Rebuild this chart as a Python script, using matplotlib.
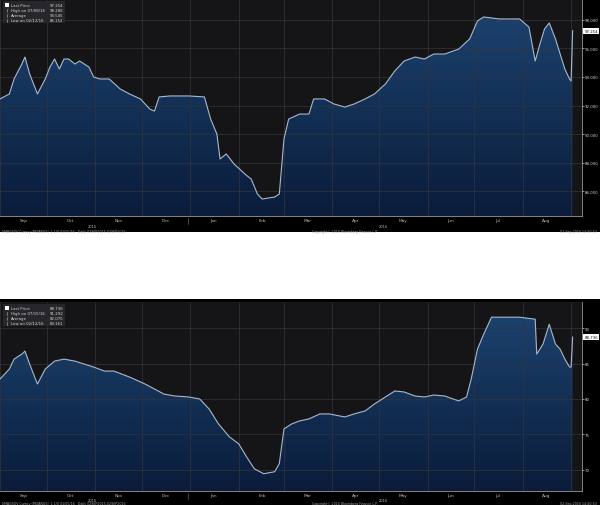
import numpy as np
import matplotlib
matplotlib.use("Agg")
import matplotlib.pyplot as plt
import matplotlib.dates as mdates
import matplotlib.transforms as mtransforms
from matplotlib.colors import LinearSegmentedColormap
from matplotlib.patches import Rectangle
import datetime as dt

# Верхній графік
top_dates = ["2015-09-01", "2015-09-07", "2015-09-10", "2015-09-15", "2015-09-17", "2015-09-20",
             "2015-09-25", "2015-09-30", "2015-10-03", "2015-10-06", "2015-10-09", "2015-10-12",
             "2015-10-15", "2015-10-19", "2015-10-22", "2015-10-28", "2015-10-31", "2015-11-04",
             "2015-11-10", "2015-11-17", "2015-11-23", "2015-11-30", "2015-12-06", "2015-12-09",
             "2015-12-12", "2015-12-19", "2015-12-31", "2016-01-10", "2016-01-14", "2016-01-18",
             "2016-01-20", "2016-01-24", "2016-01-29", "2016-02-05", "2016-02-09", "2016-02-13",
             "2016-02-16", "2016-02-24", "2016-02-27", "2016-03-01", "2016-03-04", "2016-03-11",
             "2016-03-17", "2016-03-20", "2016-03-27", "2016-04-02", "2016-04-09", "2016-04-15",
             "2016-04-22", "2016-04-28", "2016-05-05", "2016-05-11", "2016-05-17", "2016-05-24",
             "2016-05-30", "2016-06-05", "2016-06-12", "2016-06-21", "2016-06-28", "2016-07-03",
             "2016-07-07", "2016-07-17", "2016-07-30", "2016-08-05", "2016-08-09", "2016-08-12",
             "2016-08-15", "2016-08-18", "2016-08-22", "2016-08-25", "2016-08-28", "2016-08-31",
             "2016-09-01", "2016-09-02"]
top_vals = [92.46, 92.81, 93.86, 94.91, 95.40, 94.21, 92.81, 93.86, 94.70, 95.26, 94.56, 95.26,
            95.26, 94.91, 95.12, 94.70, 94.00, 93.86, 93.86, 93.16, 92.81, 92.46, 91.75, 91.61,
            92.60, 92.67, 92.67, 92.60, 91.05, 90.00, 88.25, 88.60, 87.90, 87.19, 86.84, 85.79,
            85.44, 85.58, 85.79, 89.65, 91.05, 91.40, 91.40, 92.46, 92.46, 92.11, 91.89, 92.11,
            92.46, 92.81, 93.51, 94.42, 95.12, 95.40, 95.26, 95.61, 95.61, 95.96, 96.67, 97.93,
            98.21, 98.07, 98.07, 97.50, 95.12, 96.30, 97.37, 97.79, 96.67, 95.61, 94.56, 93.86,
            93.72, 97.25]
top_yticks = [86, 88, 90, 92, 94, 96, 98]
top_legend = [("Last Price", "97.254"), ("High on 07/08/16", "98.286"),
              ("Average", "93.545"), ("Low on 02/12/16", "85.152")]

# Нижній графік
bot_dates = ["2015-09-01", "2015-09-07", "2015-09-10", "2015-09-15", "2015-09-17", "2015-09-20",
             "2015-09-25", "2015-09-30", "2015-10-06", "2015-10-12", "2015-10-19", "2015-10-25",
             "2015-10-31", "2015-11-07", "2015-11-13", "2015-11-23", "2015-12-03", "2015-12-09",
             "2015-12-15", "2015-12-22", "2015-12-31", "2016-01-07", "2016-01-13", "2016-01-19",
             "2016-01-26", "2016-02-01", "2016-02-06", "2016-02-11", "2016-02-17", "2016-02-24",
             "2016-02-27", "2016-03-01", "2016-03-06", "2016-03-11", "2016-03-17", "2016-03-24",
             "2016-03-30", "2016-04-09", "2016-04-15", "2016-04-22", "2016-04-28", "2016-05-05",
             "2016-05-11", "2016-05-17", "2016-05-24", "2016-05-30", "2016-06-05", "2016-06-12",
             "2016-06-21", "2016-06-26", "2016-06-29", "2016-07-03", "2016-07-07", "2016-07-12",
             "2016-07-17", "2016-07-30", "2016-08-09", "2016-08-10", "2016-08-14", "2016-08-18",
             "2016-08-22", "2016-08-25", "2016-08-28", "2016-08-31", "2016-09-01", "2016-09-02"]
bot_vals = [82.82, 84.23, 85.63, 86.34, 86.76, 84.93, 82.11, 84.23, 85.35, 85.63, 85.35, 84.93,
            84.51, 83.94, 83.94, 83.10, 82.11, 81.41, 80.70, 80.42, 80.28, 80.00, 78.59, 76.48,
            74.65, 73.66, 71.83, 70.14, 69.44, 69.72, 70.85, 75.77, 76.48, 76.90, 77.18, 77.89,
            77.89, 77.46, 77.89, 78.31, 79.30, 80.28, 81.13, 80.99, 80.42, 80.28, 80.56, 80.42,
            79.72, 80.28, 82.82, 87.04, 89.15, 91.55, 91.55, 91.55, 91.27, 86.34, 87.75, 90.56,
            87.75, 87.04, 85.63, 84.51, 84.51, 88.74]
bot_yticks = [70, 75, 80, 85, 90]
bot_legend = [("Last Price", "88.736"), ("High on 07/15/16", "91.292"),
              ("Average", "82.075"), ("Low on 02/12/16", "69.161")]

month_names = ["Sep", "Oct", "Nov", "Dec", "Jan", "Feb", "Mar", "Apr", "May", "Jun", "Jul", "Aug"]
years = ["2015", "2016"]
footer_left = "EMAGSOV Curncy (MOANGS)  1 1/0 01/05/16   Daily 02SEP2015-02SEP2016"
footer_mid = "Copyright\u00a9 2016 Bloomberg Finance L.P."
footer_right = "02-Sep-2016 14:40:53"

W, H = 600, 506
fig = plt.figure(figsize=(W / 100, H / 100), dpi=100, facecolor="white")

def fx(px):
    return px / W

def fy(py):
    return 1 - py / H

cmap = LinearSegmentedColormap.from_list("bbg", ["#0a1c3a", "#1b416d"])
x_start = mdates.date2num(dt.date(2015, 9, 1))
x_end = mdates.date2num(dt.date(2016, 9, 8))
month_starts = [dt.date(2015 + (8 + i) // 12, (8 + i) % 12 + 1, 1) for i in range(13)]
month_mids = [dt.date(d.year, d.month, 16) for d in month_starts[:12]]


def draw_panel(panel_top, panel_bot, ax_top, ax_bot, dates, vals, ylim, yticks, fmt, legend,
               last_txt, yr_off, ft_off):
    fig.add_artist(Rectangle((0, fy(panel_bot)), 1, (panel_bot - panel_top) / H,
                             transform=fig.transFigure, facecolor="black", edgecolor="none", zorder=-5))
    ax = fig.add_axes([0, fy(ax_bot), fx(582), (ax_bot - ax_top) / H])
    ax.set_facecolor("#151518")
    x = mdates.date2num([dt.date.fromisoformat(d) for d in dates])

    # градієнтна заливка під лінією
    grad = np.linspace(0, 1, 256).reshape(-1, 1)
    im = ax.imshow(grad, extent=[x_start, x_end, ylim[0], max(vals)], origin="lower",
                   aspect="auto", cmap=cmap, zorder=1)
    poly = ax.fill_between(x, vals, ylim[0], facecolor="none", edgecolor="none")
    im.set_clip_path(poly.get_paths()[0], transform=ax.transData)
    ax.plot(x, vals, color="#a9b8cc", lw=0.8, zorder=3)

    ax.set_xlim(x_start, x_end)
    ax.set_ylim(*ylim)

    ax.set_xticks(mdates.date2num(month_mids))
    ax.set_xticklabels(month_names)
    ax.set_xticks(mdates.date2num(month_starts), minor=True)
    ax.tick_params(axis="x", which="both", length=0, labelsize=3.1, colors="#b8b8b8", pad=1.5)
    ax.grid(which="minor", axis="x", color="#34343a", lw=0.5, zorder=2)

    ax.yaxis.tick_right()
    ax.set_yticks(yticks)
    ax.set_yticklabels([fmt.format(v) for v in yticks])
    ax.tick_params(axis="y", length=1.5, width=0.5, colors="#d0d0d0", labelsize=2.8, pad=0.6)
    ax.grid(which="major", axis="y", color="#34343a", lw=0.5, zorder=2)

    for s in ["top", "left"]:
        ax.spines[s].set_visible(False)
    for s in ["right", "bottom"]:
        ax.spines[s].set_color("#9a9a9a")
        ax.spines[s].set_linewidth(0.6)

    # мітка останньої ціни
    tr = mtransforms.blended_transform_factory(ax.transAxes, ax.transData)
    ax.text(1.004, vals[-1], last_txt, transform=tr, ha="left", va="center", fontsize=2.8,
            color="#111111", bbox=dict(boxstyle="square,pad=0.25", fc="white", ec="none"),
            clip_on=False, zorder=6)

    # легенда
    hpx = ax_bot - ax_top
    ax.add_patch(Rectangle((3 / 582, 1 - 24 / hpx), 62 / 582, 22 / hpx, transform=ax.transAxes,
                           facecolor="#26262b", edgecolor="none", zorder=5))
    for i, (name, val) in enumerate(legend):
        yy = 1 - (6 + 5 * i) / hpx
        ax.text(11 / 582, yy, name, transform=ax.transAxes, fontsize=2.8, color="#d8d8d8",
                va="center", zorder=6)
        ax.text(63 / 582, yy, val, transform=ax.transAxes, fontsize=2.8, color="#d8d8d8",
                va="center", ha="right", zorder=6)
        if i == 0:
            ax.add_patch(Rectangle((5 / 582, yy - 2 / hpx), 4 / 582, 4 / hpx, transform=ax.transAxes,
                                   facecolor="white", edgecolor="none", zorder=6))
        else:
            ax.plot([7 / 582, 7 / 582], [yy - 1.5 / hpx, yy + 1.5 / hpx], transform=ax.transAxes,
                    color="#bbbbbb", lw=0.4, zorder=6)

    # роки та нижній рядок
    yr = ax_bot + yr_off
    fig.text(fx(92), fy(yr), years[0], fontsize=2.6, color="#b8b8b8", ha="center", va="center")
    fig.text(fx(383), fy(yr), years[1], fontsize=2.6, color="#b8b8b8", ha="center", va="center")
    fig.add_artist(plt.Line2D([fx(188), fx(188)], [fy(ax_bot + 2), fy(ax_bot + 8)],
                              transform=fig.transFigure, color="#666666", lw=0.5))
    ft = ax_bot + ft_off
    fig.text(fx(2), fy(ft), footer_left, fontsize=2.3, color="#a0a0a0", ha="left", va="center")
    fig.text(fx(345), fy(ft), footer_mid, fontsize=2.3, color="#a0a0a0", ha="center", va="center")
    fig.text(fx(597), fy(ft), footer_right, fontsize=2.3, color="#a0a0a0", ha="right", va="center")
    return ax


draw_panel(0, 233, 0, 217, top_dates, top_vals, (84.25, 99.47), top_yticks, "{:.3f}",
           top_legend, top_legend[0][1], 10, 14.5)
draw_panel(300, 506, 303, 492, bot_dates, bot_vals, (67.0, 93.7), bot_yticks, "{:.0f}",
           bot_legend, bot_legend[0][1], 9, 12.3)

fig.savefig("out.png", dpi=100, facecolor="white")
